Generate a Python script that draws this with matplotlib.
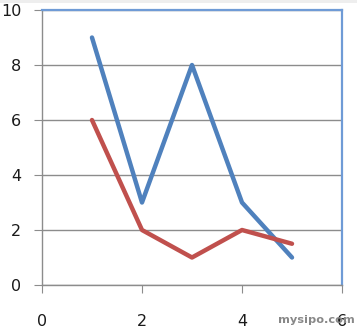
import matplotlib.pyplot as plt
from matplotlib.patches import Rectangle

# Series values
x_values = [1, 2, 3, 4, 5]
blue_series = [9, 3, 8, 3, 1]
red_series = [6, 2, 1, 2, 1.5]
x_ticks = [0, 2, 4, 6]
y_ticks = [0, 2, 4, 6, 8, 10]

fig = plt.figure(figsize=(3.57, 3.34), dpi=100)
fig.patch.set_facecolor("white")

# thin grey strip along the top edge of the screenshot
fig.add_artist(Rectangle((0, 0.991), 1, 0.009, transform=fig.transFigure,
                         facecolor="#eeeeee", edgecolor="none"))

ax = fig.add_axes([0.1176, 0.1467, 0.8404, 0.8233])

ax.plot(x_values, blue_series, color="#4f81bd", linewidth=3.2, solid_capstyle="round")
ax.plot(x_values, red_series, color="#c0504d", linewidth=3.2, solid_capstyle="round")

ax.set_xlim(0, 6)
ax.set_ylim(0, 10)
ax.set_xticks(x_ticks)
ax.set_yticks(y_ticks)

ax.yaxis.grid(True, color="#8c8c8c", linewidth=1)
ax.set_axisbelow(True)

for side in ("left", "bottom"):
    ax.spines[side].set_color("#8c8c8c")
    ax.spines[side].set_linewidth(1)
for side in ("top", "right"):
    ax.spines[side].set_color("#6f9bd6")
    ax.spines[side].set_linewidth(1.6)

ax.tick_params(axis="both", direction="out", length=6, color="#8c8c8c",
               labelsize=11.5, labelcolor="#1a1a1a")
ax.tick_params(axis="x", pad=15)
ax.tick_params(axis="y", pad=9)

# Watermark (sits over the last x label, as in the reference)
fig.text(0.995, 0.042, "mysipo.com", ha="right", va="center", fontsize=8.2,
         fontweight="bold", color="#888888", zorder=5)

fig.savefig("out.png", dpi=100)
